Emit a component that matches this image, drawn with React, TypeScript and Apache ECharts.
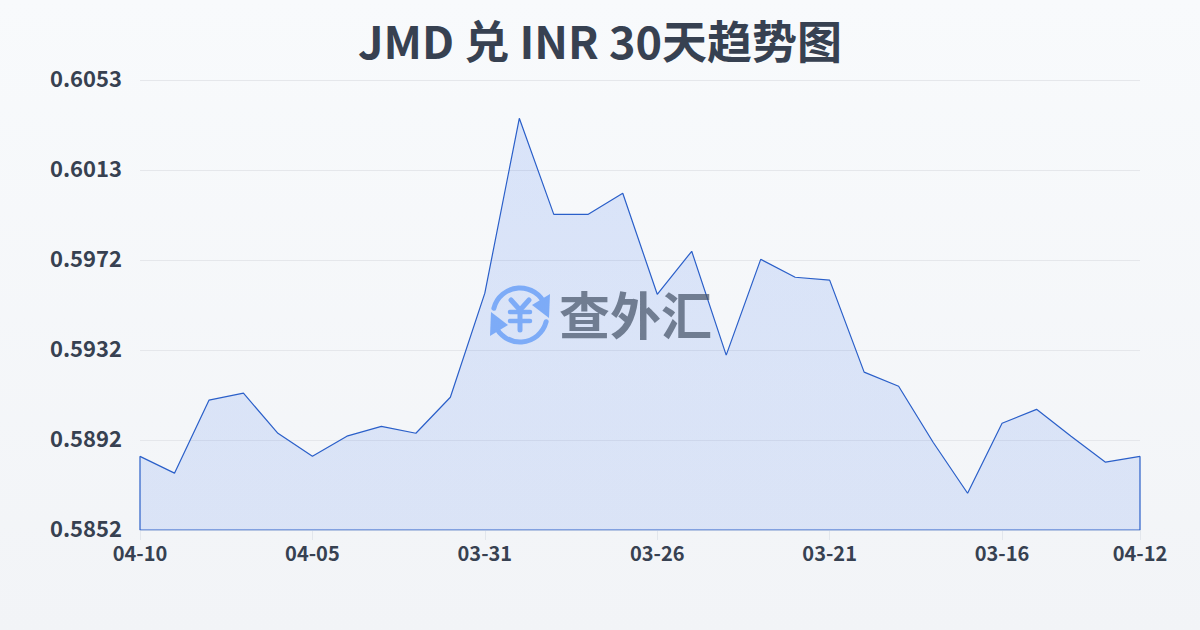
import React, { useEffect, useRef } from "react";
import * as echarts from "echarts";

const categories = ["04-10","04-09","04-08","04-07","04-06","04-05","04-04","04-03","04-02","04-01","03-31","03-30","03-29","03-28","03-27","03-26","03-25","03-24","03-23","03-22","03-21","03-20","03-19","03-18","03-17","03-16","03-15","03-14","03-13","04-12"];
const rates = [0.58847,0.58772,0.59098,0.59129,0.5895,0.58847,0.58937,0.58981,0.5895,0.59111,0.59576,0.60357,0.59928,0.59928,0.60022,0.59571,0.59763,0.59299,0.59727,0.59647,0.59634,0.59223,0.5916,0.5891,0.58682,0.58995,0.59057,0.58937,0.58821,0.58847];
const yTicks = [0.58518,0.5892,0.59322,0.59724,0.60126,0.60528];
const xTickIndexes = [0,5,10,15,20,25,29];
const title = "JMD 兑 INR 30天趋势图";
const yMin = 0.58518;
const yMax = 0.60528;
const lastIndex = categories.length - 1;
const edgePath = [[0,rates[0]],[0,yMin],[lastIndex,yMin],[lastIndex,rates[lastIndex]]];

const FONT = '"Noto Sans CJK SC","Noto Sans",sans-serif';

export default function App() {
  const ref = useRef<HTMLDivElement>(null);
  useEffect(() => {
    document.body.style.margin = "0";
    const chart = echarts.init(ref.current!, null, { renderer: "svg" });
    const blue = "#8ab6f9";
    chart.setOption({
      animation: false,
      backgroundColor: new echarts.graphic.LinearGradient(0,0,0,1,[
        {offset:0,color:"#f8fafc"},{offset:1,color:"#f2f4f7"}]),
      title: {
        text: title, left: "center", top: 12,
        textStyle: { fontFamily: FONT, fontSize: 45, fontWeight: "bold", color: "#374151" },
      },
      grid: { left: 140, right: 60, top: 80, bottom: 100, containLabel: false },
      xAxis: {
        type: "category", data: categories, boundaryGap: false,
        axisLine: { show: false },
        axisTick: { show: true, customValues: xTickIndexes, length: 10, lineStyle: { color: "#e2e6ec", width: 1 } },
        axisLabel: {
          customValues: xTickIndexes, margin: 12, hideOverlap: false,
          fontFamily: FONT, fontSize: 20, fontWeight: "bold", color: "#374151",
        },
        splitLine: { show: false },
      },
      yAxis: {
        type: "value", min: yMin, max: yMax,
        axisLine: { show: false },
        axisTick: { show: false, customValues: yTicks },
        axisLabel: {
          customValues: yTicks, margin: 18,
          fontFamily: FONT, fontSize: 22, fontWeight: "bold", color: "#374151",
          formatter: (v: number) => v.toFixed(4),
          verticalAlign: "bottom", lineHeight: 6,
        },
        splitLine: { show: true, lineStyle: { color: "#e5e7eb", width: 1 } },
      },
      series: [
        {
          type: "line", data: rates, symbol: "none", smooth: false,
          lineStyle: { color: "#2a5fc9", width: 1.2 },
          areaStyle: {
            color: new echarts.graphic.LinearGradient(0,0,0,1,[
              {offset:0,color:"rgba(37,99,235,0.2)"},{offset:1,color:"rgba(37,99,235,0.17)"}]),
          },
          z: 2,
        },
        {
          type: "line", data: edgePath, symbol: "none",
          lineStyle: { color: "#2a5fc9", width: 1.2 }, z: 3, silent: true,
        },
      ],
      graphic: [
        {
          type: "group", x: 520, y: 315, z: 100, silent: true,
          children: [
            { type: "arc", shape: { cx: 0, cy: 0, r: 27, startAngle: -Math.PI*0.92, endAngle: -Math.PI*0.12 },
              style: { stroke: blue, lineWidth: 5, fill: "none", lineCap: "round" } },
            { type: "arc", shape: { cx: 0, cy: 0, r: 27, startAngle: Math.PI*0.08, endAngle: Math.PI*0.88 },
              style: { stroke: blue, lineWidth: 5, fill: "none", lineCap: "round" } },
            { type: "polygon", shape: { points: [[30,-21],[29,3],[12,-10]] }, style: { fill: blue } },
            { type: "polygon", shape: { points: [[-30,21],[-29,-3],[-12,10]] }, style: { fill: blue } },
            { type: "polyline", shape: { points: [[-9,-15],[0,-5],[9,-15]] },
              style: { stroke: blue, lineWidth: 5, fill: "none", lineCap: "round", lineJoin: "round" } },
            { type: "line", shape: { x1: -10, y1: -3, x2: 10, y2: -3 }, style: { stroke: blue, lineWidth: 4.5, lineCap: "round" } },
            { type: "line", shape: { x1: -10, y1: 6, x2: 10, y2: 6 }, style: { stroke: blue, lineWidth: 4.5, lineCap: "round" } },
            { type: "line", shape: { x1: 0, y1: -5, x2: 0, y2: 15 }, style: { stroke: blue, lineWidth: 5, lineCap: "round" } },
          ],
        },
        {
          type: "text", x: 559, y: 287, z: 100, silent: true,
          style: { text: "查外汇", fontFamily: '"Noto Sans CJK SC",sans-serif', fontSize: 51, fontWeight: "bold", fill: "rgba(71,85,105,0.72)" },
        },
      ],
    });
    return () => chart.dispose();
  }, []);
  return <div ref={ref} style={{ width: 1200, height: 630 }} />;
}
